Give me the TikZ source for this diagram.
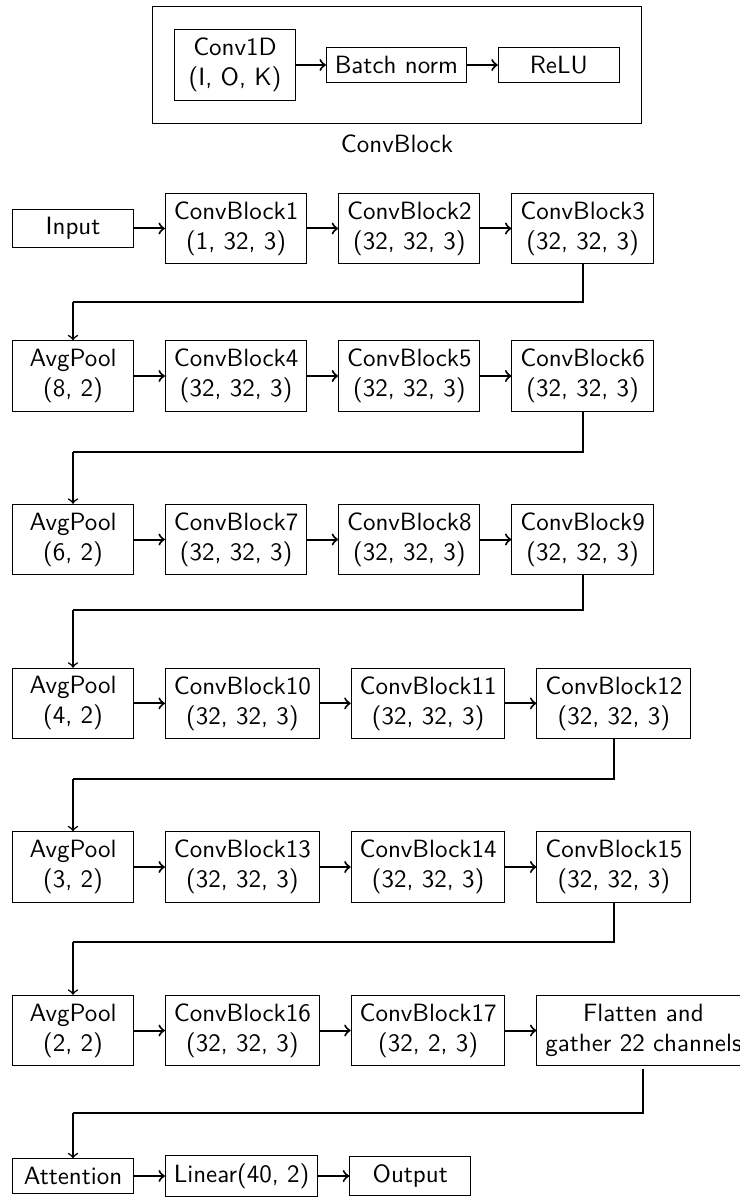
\documentclass[tikz,border=0pt]{standalone}
\usetikzlibrary{positioning,fit}
\begin{document}
\begin{tikzpicture}[x=0.4pt,y=-0.4pt, font=\sffamily,
  blk/.style={draw, minimum width=1.7cm, align=center, inner sep=3.33pt},
  flow/.style={->, thick},
  down/.style={->, semithick},
  elbow/.style={thick},
  node distance=12.4pt]
\useasboundingbox (0,0) rectangle (739,1197);

% ---- ConvBlock legend ----
\node[blk] (conv) at (235,65) {Conv1D\\(I, O, K)};
\node[blk, right=12pt of conv] (bn) {Batch norm};
\node[blk, right=12.4pt of bn] (relu) {ReLU};
\node[draw, fit=(conv)(relu), inner xsep=8.8pt, inner ysep=9.2pt] (cbox) {};
\node (cblabel) at (397,143.5) {ConvBlock};
\draw[flow] (conv) -- (bn);
\draw[flow] (bn) -- (relu);

% ---- row 1 ----
\node[blk] (in) at (73,228.5) {Input};
\node[blk, right=of in] (c1) {ConvBlock1\\(1, 32, 3)};
\node[blk, right=of c1] (c2) {ConvBlock2\\(32, 32, 3)};
\node[blk, right=of c2] (c3) {ConvBlock3\\(32, 32, 3)};
\draw[flow] (in) -- (c1);
\draw[flow] (c1) -- (c2);
\draw[flow] (c2) -- (c3);

% ---- row 2 ----
\node[blk] (p1) at (73,376) {AvgPool\\(8, 2)};
\node[blk, right=of p1] (c4) {ConvBlock4\\(32, 32, 3)};
\node[blk, right=of c4] (c5) {ConvBlock5\\(32, 32, 3)};
\node[blk, right=of c5] (c6) {ConvBlock6\\(32, 32, 3)};
\draw[flow] (p1) -- (c4);
\draw[flow] (c4) -- (c5);
\draw[flow] (c5) -- (c6);

% ---- row 3 ----
\node[blk] (p2) at (73,539.5) {AvgPool\\(6, 2)};
\node[blk, right=of p2] (c7) {ConvBlock7\\(32, 32, 3)};
\node[blk, right=of c7] (c8) {ConvBlock8\\(32, 32, 3)};
\node[blk, right=of c8] (c9) {ConvBlock9\\(32, 32, 3)};
\draw[flow] (p2) -- (c7);
\draw[flow] (c7) -- (c8);
\draw[flow] (c8) -- (c9);

% ---- row 4 ----
\node[blk] (p3) at (73,703.4) {AvgPool\\(4, 2)};
\node[blk, right=of p3] (c10) {ConvBlock10\\(32, 32, 3)};
\node[blk, right=of c10] (c11) {ConvBlock11\\(32, 32, 3)};
\node[blk, right=of c11] (c12) {ConvBlock12\\(32, 32, 3)};
\draw[flow] (p3) -- (c10);
\draw[flow] (c10) -- (c11);
\draw[flow] (c11) -- (c12);

% ---- row 5 ----
\node[blk] (p4) at (73,867) {AvgPool\\(3, 2)};
\node[blk, right=of p4] (c13) {ConvBlock13\\(32, 32, 3)};
\node[blk, right=of c13] (c14) {ConvBlock14\\(32, 32, 3)};
\node[blk, right=of c14] (c15) {ConvBlock15\\(32, 32, 3)};
\draw[flow] (p4) -- (c13);
\draw[flow] (c13) -- (c14);
\draw[flow] (c14) -- (c15);

% ---- row 6 ----
\node[blk] (p5) at (73,1030.5) {AvgPool\\(2, 2)};
\node[blk, right=of p5] (c16) {ConvBlock16\\(32, 32, 3)};
\node[blk, right=of c16] (c17) {ConvBlock17\\(32, 2, 3)};
\node[blk, right=of c17] (fl) {Flatten and\\gather 22 channels};
\draw[flow] (p5) -- (c16);
\draw[flow] (c16) -- (c17);
\draw[flow] (c17) -- (fl);

% ---- row 7 ----
\node[blk] (att) at (73,1176) {Attention};
\node[blk, right=of att] (lin) {Linear(40, 2)};
\node[blk, right=of lin] (out) {Output};
\draw[flow] (att) -- (lin);
\draw[flow] (lin) -- (out);

% ---- row-to-row connectors ----
\coordinate (j1) at (73,301.7);
\coordinate (j2) at (73,452.3);
\coordinate (j3) at (73,610);
\coordinate (j4) at (73,779);
\coordinate (j5) at (73,942.3);
\coordinate (j6) at (73,1112.5);
\draw[elbow] (c3.south) |- (j1);
\draw[down] (j1) -- (p1);
\draw[elbow] (c6.south) |- (j2);
\draw[down] (j2) -- (p2);
\draw[elbow] (c9.south) |- (j3);
\draw[down] (j3) -- (p3);
\draw[elbow] (c12.south) |- (j4);
\draw[down] (j4) -- (p4);
\draw[elbow] (c15.south) |- (j5);
\draw[down] (j5) -- (p5);
\draw[elbow] ([yshift=-1.2pt]fl.south) |- (j6);
\draw[down] (j6) -- (att);
\end{tikzpicture}
\end{document}
